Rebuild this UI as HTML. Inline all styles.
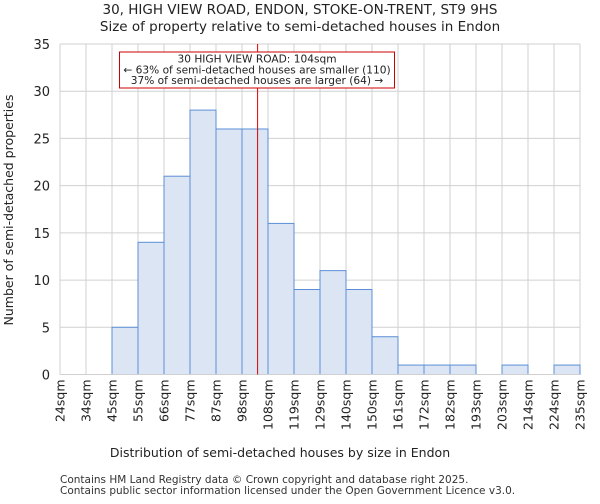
<!DOCTYPE html>
<html><head><meta charset="utf-8"><style>
body{margin:0;background:#fff;font-family:"DejaVu Sans","Liberation Sans",sans-serif}
text{font-family:"DejaVu Sans","Liberation Sans",sans-serif}
</style></head><body>
<svg id="c" width="600" height="500">
<text x="300" y="14" text-anchor="middle" font-size="13.5" fill="#222">30, HIGH VIEW ROAD, ENDON, STOKE-ON-TRENT, ST9 9HS</text>
<text x="300" y="31" text-anchor="middle" font-size="13.5" fill="#222">Size of property relative to semi-detached houses in Endon</text>
<g id="grid"></g><g id="bars"></g><g id="axes"></g>
<text x="280" y="457" text-anchor="middle" font-size="12.5" fill="#222">Distribution of semi-detached houses by size in Endon</text>
<text transform="translate(13,210) rotate(-90)" text-anchor="middle" font-size="12.5" fill="#222">Number of semi-detached properties</text>
<text x="60" y="483" font-size="10.5" fill="#333">Contains HM Land Registry data © Crown copyright and database right 2025.</text>
<text x="60" y="494" font-size="10.5" fill="#333">Contains public sector information licensed under the Open Government Licence v3.0.</text>
</svg>
<script>
const tickLabels=["24sqm","34sqm","45sqm","55sqm","66sqm","77sqm","87sqm","98sqm","108sqm","119sqm","129sqm","140sqm","150sqm","161sqm","172sqm","182sqm","193sqm","203sqm","214sqm","224sqm","235sqm"];
const counts=[0,0,5,14,21,28,26,26,16,9,11,9,4,1,1,1,0,1,0,1];
const yTicks=[0,5,10,15,20,25,30,35];
const markerBin=7.6;
const L=60,R=580,T=44,B=374.5,yMax=35;
const ns="http://www.w3.org/2000/svg";
const xs=i=>L+i*(R-L)/counts.length;
const ys=v=>B-v*(B-T)/yMax;
function mk(p,t,a){const e=document.createElementNS(ns,t);for(const k in a)e.setAttribute(k,a[k]);p.appendChild(e);return e;}
const g=document.getElementById('grid'),bg=document.getElementById('bars'),ax=document.getElementById('axes');
yTicks.forEach(v=>{
const l=mk(g,'line',{x1:L,x2:R,y1:ys(v),y2:ys(v),stroke:'#d0d0d0','stroke-width':1});


const t=mk(ax,'text',{x:L-10,y:ys(v)+5,'text-anchor':'end','font-size':13,fill:'#222'});t.textContent=v;


});
tickLabels.forEach((s,i)=>{
const l=mk(g,'line',{x1:xs(i),x2:xs(i),y1:T,y2:B,stroke:'#d0d0d0','stroke-width':1});


const t=mk(ax,'text',{transform:`translate(${xs(i)+4.5},${B+5}) rotate(-90)`,'text-anchor':'end','font-size':12.5,fill:'#222'});t.textContent=s;


});
counts.forEach((v,i)=>{if(!v)return;
const r=mk(bg,'rect',{x:xs(i),y:ys(v),width:xs(1)-xs(0),height:B-ys(v),fill:'#dce5f4',stroke:'#5b8fd6','stroke-width':1});


});
const bl=mk(ax,'line',{x1:L,x2:R,y1:B,y2:B,stroke:'#d0d0d0'});


const mx=xs(markerBin);
const ml=mk(ax,'line',{x1:mx,x2:mx,y1:T,y2:B,stroke:'#dd0000','stroke-width':1});


const bx=mk(ax,'rect',{x:119.5,y:52,width:275,height:36,fill:'#fff',stroke:'#cc0000','stroke-width':1});


["30 HIGH VIEW ROAD: 104sqm","← 63% of semi-detached houses are smaller (110)","37% of semi-detached houses are larger (64) →"].forEach((s,i)=>{
const t=mk(ax,'text',{x:257,y:62.5+i*10.8,'text-anchor':'middle','font-size':10.6,fill:'#222'});t.textContent=s;


});
</script>
</body></html>
